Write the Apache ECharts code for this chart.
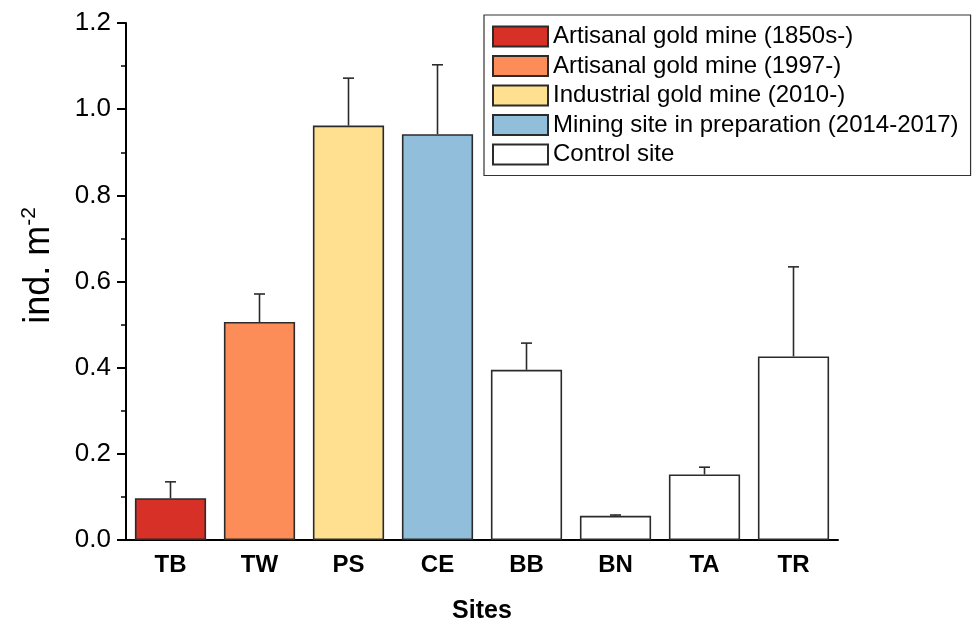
<!DOCTYPE html>
<html>
<head>
<meta charset="utf-8">
<script src="https://cdn.jsdelivr.net/npm/echarts@6/dist/echarts.min.js"></script>
<style>html,body{margin:0;padding:0;background:#fff;}#c{width:973px;height:624px;}</style>
</head>
<body>
<div id="c"></div>
<script>
const categories = ['TB', 'TW', 'PS', 'CE', 'BB', 'BN', 'TA', 'TR'];
const means = [0.097, 0.506, 0.962, 0.942, 0.395, 0.056, 0.152, 0.426];
const upperErr = [0.135, 0.571, 1.072, 1.103, 0.457, 0.058, 0.169, 0.634];
const groupNames = ['Artisanal gold mine (1850s-)', 'Artisanal gold mine (1997-)', 'Industrial gold mine (2010-)', 'Mining site in preparation (2014-2017)', 'Control site'];
const groupOf = [0, 1, 2, 3, 4, 4, 4, 4];
const groupColors = ['#d73027', '#fc8d59', '#fee090', '#91bfdb', '#ffffff'];
const yTicks = [0, 0.2, 0.4, 0.6, 0.8, 1.0, 1.2];

const FONT = '"Liberation Sans", Arial, sans-serif';
const chart = echarts.init(document.getElementById('c'));

const barSeries = groupNames.map((name, g) => ({
  type: 'bar',
  name: name,
  stack: 'all',
  barWidth: '80%',
  data: means.map((v, i) => groupOf[i] === g ? v : '-'),
  itemStyle: { color: groupColors[g], borderColor: '#2b2b2b', borderWidth: 1.6 },
  emphasis: { disabled: true }
}));

const errSeries = {
  type: 'custom',
  name: 'err',
  z: 5,
  data: categories.map((c, i) => [i, means[i], upperErr[i]]),
  renderItem: function (params, api) {
    const p0 = api.coord([api.value(0), api.value(1)]);
    const p1 = api.coord([api.value(0), api.value(2)]);
    const hw = 5.5;
    const st = { stroke: '#2b2b2b', lineWidth: 1.6 };
    return {
      type: 'group',
      children: [
        { type: 'line', shape: { x1: p0[0], y1: p0[1], x2: p1[0], y2: p1[1] }, style: st },
        { type: 'line', shape: { x1: p1[0] - hw, y1: p1[1], x2: p1[0] + hw, y2: p1[1] }, style: st }
      ]
    };
  }
};

chart.setOption({
  animation: false,
  backgroundColor: '#fff',
  grid: { left: 126, top: 23, right: 135, bottom: 84, containLabel: false, outerBoundsMode: 'none' },
  legend: {
    data: groupNames,
    orient: 'vertical',
    left: 484,
    top: 15,
    padding: [9.5, 12, 9, 8],
    itemWidth: 55,
    itemHeight: 20,
    itemGap: 5.5,
    icon: 'rect',
    borderColor: '#333',
    borderWidth: 1.2,
    selectedMode: false,
    textStyle: { fontFamily: FONT, fontSize: 24, color: '#000' }
  },
  xAxis: {
    type: 'category',
    data: categories,
    name: 'Sites',
    nameLocation: 'middle',
    nameGap: 59,
    nameMoveOverlap: false,
    nameTextStyle: { fontFamily: FONT, fontSize: 25, fontWeight: 'bold', color: '#000' },
    axisLine: { lineStyle: { color: '#000', width: 2 } },
    axisTick: { alignWithLabel: true, length: 8, lineStyle: { color: '#000', width: 2 } },
    axisLabel: { fontFamily: FONT, fontSize: 24, fontWeight: 'bold', color: '#000', margin: 13 }
  },
  yAxis: {
    type: 'value',
    min: 0,
    max: 1.2,
    interval: 0.2,
    name: 'ind. m{sup|-2}',
    nameLocation: 'middle',
    nameGap: 67,
    nameMoveOverlap: false,
    nameRotate: 90,
    nameTextStyle: {
      fontFamily: FONT, fontSize: 36, color: '#000', padding: [0, 0, 0, 32],
      rich: { sup: { fontFamily: FONT, fontSize: 21, color: '#000', verticalAlign: 'top', lineHeight: 40, padding: [0, 0, 18, 0] } }
    },
    axisLine: { show: true, lineStyle: { color: '#000', width: 2 } },
    axisTick: { show: true, length: 9, lineStyle: { color: '#000', width: 2 } },
    minorTick: { show: true, splitNumber: 2, length: 5, lineStyle: { color: '#000', width: 1.5 } },
    splitLine: { show: false },
    axisLabel: {
      fontFamily: FONT, fontSize: 26, color: '#000', margin: 15,
      formatter: v => yTicks.indexOf(Math.round(v * 10) / 10) >= 0 ? v.toFixed(1) : ''
    }
  },
  series: barSeries.concat([errSeries])
});
</script>
</body>
</html>
